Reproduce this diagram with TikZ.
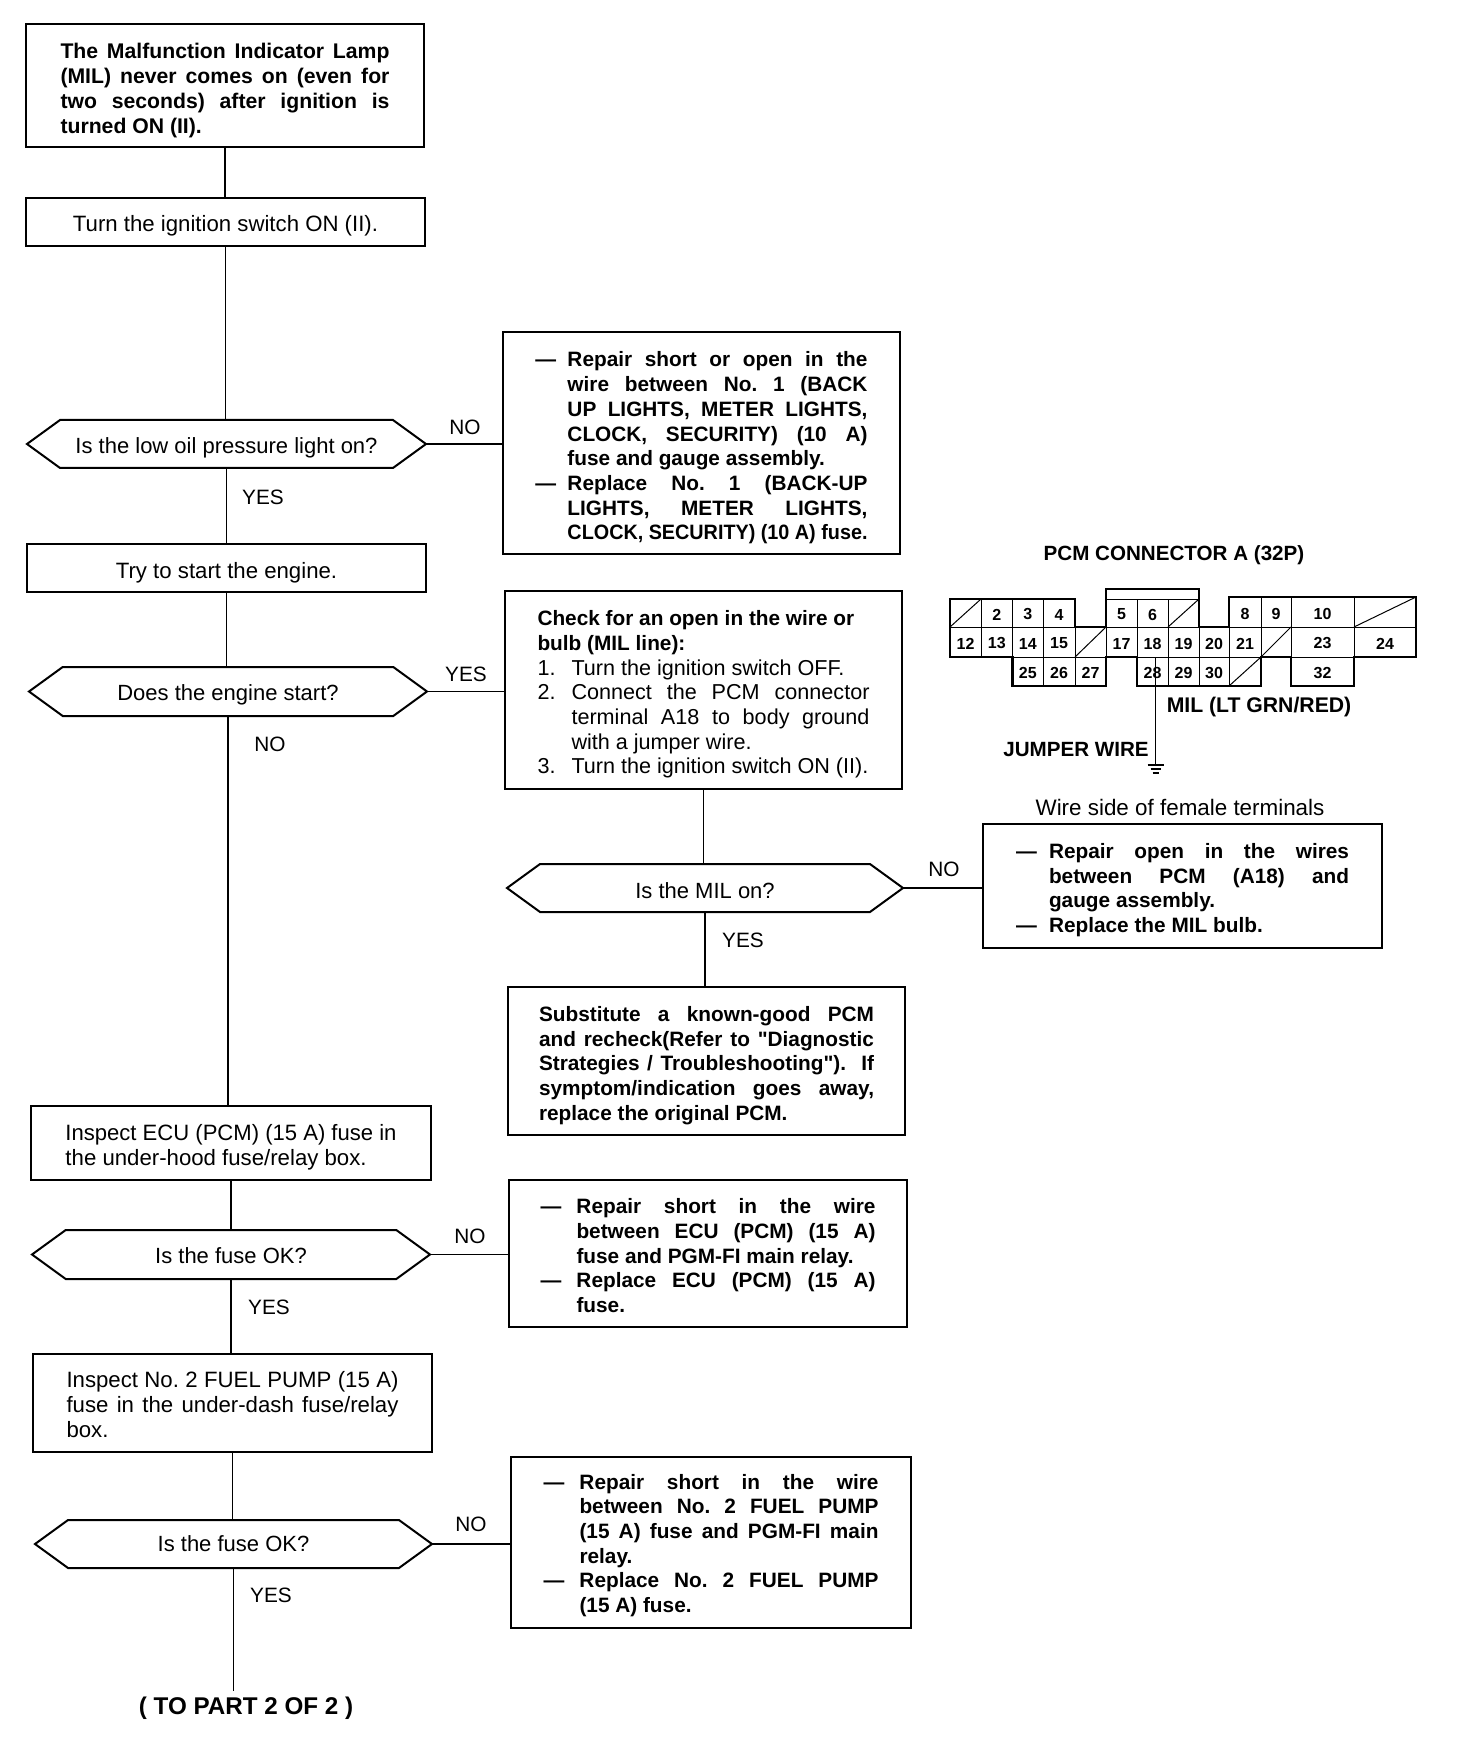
\documentclass[tikz,border=0pt]{standalone}
\usepackage{fontspec}
\usepackage{graphicx}
\setmainfont{Liberation Sans}[Ligatures=TeXOff]
\usetikzlibrary{shapes.symbols}
\AtBeginDocument{\frenchspacing}
\newdimen\jwd
\newdimen\jin
\newcommand\bld{\fontsize{10.4}{12.35}\selectfont\bfseries}
\newcommand\justl[1]{\setbox0=\hbox{#1}\ifdim\wd0>\jwd\hbox{\resizebox{\jwd}{\height}{\copy0}}\else\hbox to \jwd{#1}\fi}
\newcommand\leftl[1]{\hbox to \jwd{#1\hfil}}
\newcommand\dashj[1]{\hbox{\hbox to \jin{—\hfil}\justl{#1}}}
\newcommand\dashl[1]{\hbox{\hbox to \jin{—\hfil}\leftl{#1}}}
\newcommand\indj[1]{\hbox{\hskip\jin\justl{#1}}}
\newcommand\indl[1]{\hbox{\hskip\jin\leftl{#1}}}
\newcommand\numj[2]{\hbox{\hbox to \jin{#1\hfil}\justl{#2}}}
\newcommand\numl[2]{\hbox{\hbox to \jin{#1\hfil}\leftl{#2}}}
\newcommand\txtblk[3]{\vbox{\baselineskip=12.35pt\lineskiplimit=-5pt\jwd=#1pt\jin=#2pt\relax #3}}
\tikzset{
  flowbox/.style={draw=black,line width=1pt,rectangle,inner sep=0pt,outer sep=0pt,fill=white,font=\fontsize{11.1}{12.35}\selectfont},
  decision/.style={draw=black,line width=1pt,signal,signal from=nowhere,signal to=east and west,signal pointer angle=72,inner sep=0pt,outer sep=0pt,fill=white,font=\fontsize{11}{12.35}\selectfont},
  flowline/.style={draw=black,line width=0.8pt},
  lbl/.style={inner sep=0pt,font=\fontsize{10.4}{12}\selectfont},
  boldlbl/.style={inner sep=0pt,font=\fontsize{10.3}{12}\selectfont\bfseries},
  pincell/.style={draw=black,line width=0.5pt,rectangle,inner sep=0pt,outer sep=0pt,font=\fontsize{8}{9}\selectfont\bfseries},
  plug/.style={draw=black,line width=1.4pt,line join=miter},
  thinline/.style={draw=black,line width=0.5pt}
}
\newcommand\fbx[7]{\node[flowbox,minimum width={0.5pt*(#3-#2)},minimum height={0.5pt*(#5-#4)}] (#1) at ({(#2+#3)/2},{(#4+#5)/2}) {\vbox{\kern#7pt\hbox{#6}}};}
\newcommand\decn[7]{\node[decision,minimum width={0.5pt*(#3-#2)},minimum height={0.5pt*(#5-#4)}] (#1) at ({(#2+#3)/2},{(#4+#5)/2}) {\vbox{\kern#7pt\hbox{#6}}};}
\newcommand\pcell[6]{\node[pincell,minimum width={0.5pt*(#3-#2)},minimum height={0.5pt*(#5-#4)}] (#1) at ({(#2+#3)/2},{(#4+#5)/2}) {\vbox{\kern1.5pt\hbox{#6}}};}
\newcommand\pdiag[5]{\node[pincell,minimum width={0.5pt*(#3-#2)},minimum height={0.5pt*(#5-#4)}] (#1) at ({(#2+#3)/2},{(#4+#5)/2}) {};\draw[thinline] (#1.south west) -- (#1.north east);}
\begin{document}
\begin{tikzpicture}[x=0.5pt,y=-0.5pt]
\useasboundingbox (0,0) rectangle (1472,1754);
\fill[white] (0,0) rectangle (1472,1754);
% left column
\fbx{a}{26}{424}{24}{147}{\fontsize{10.6}{12.35}\selectfont\bfseries\txtblk{164.5}{0}{%
 \justl{The Malfunction Indicator Lamp}
 \justl{(MIL) never comes on (even for}
 \justl{two seconds) after ignition is}
 \leftl{turned ON (II).}}}{5}
\fbx{b}{26}{425}{198}{246}{Turn the ignition switch ON (II).}{3.4}
\decn{d1}{27}{426}{420}{468}{Is the low oil pressure light on?}{3.4}
\fbx{c}{27}{426}{544}{592}{Try to start the engine.}{4.5}
\decn{d2}{29}{427}{667}{716}{Does the engine start?}{3.4}
\fbx{e}{31}{431}{1106}{1180}{\txtblk{165.5}{0}{%
 \justl{Inspect ECU (PCM) (15 A) fuse in}
 \leftl{the under-hood fuse/relay box.}}}{4.5}
\decn{d4}{32}{430}{1230}{1279}{Is the fuse OK?}{1}
\fbx{f}{33}{432}{1354}{1452}{\txtblk{166}{0}{%
 \justl{Inspect No. 2 FUEL PUMP (15 A)}
 \justl{fuse in the under-dash fuse/relay}
 \leftl{box.}}}{1.5}
\decn{d5}{35}{432}{1520}{1568}{Is the fuse OK?}{0}
\coordinate (endp) at (235,1691);
\node[inner sep=0pt,font=\fontsize{12.1}{14}\selectfont\bfseries] (part) at (246,1708) {( TO PART 2 OF 2 )};
% middle column
\fbx{r1}{503}{900}{332}{554}{\bld\txtblk{150}{16}{%
 \dashj{Repair short or open in the}
 \indj{wire between No. 1 (BACK}
 \indj{UP LIGHTS, METER LIGHTS,}
 \indj{CLOCK, SECURITY) (10 A)}
 \indl{fuse and gauge assembly.}
 \dashj{Replace No. 1 (BACK-UP}
 \indj{LIGHTS, METER LIGHTS,}
 \indj{CLOCK, SECURITY) (10 A) fuse.}}}{5}
\fbx{g}{505}{902}{591}{789}{\fontsize{10.8}{12.35}\selectfont\txtblk{149}{17}{%
 \hbox{\bld Check for an open in the wire or}
 \hbox{\bld bulb (MIL line):}
 \numl{1.}{Turn the ignition switch OFF.}
 \numj{2.}{Connect the PCM connector}
 \indj{terminal A18 to body ground}
 \indl{with a jumper wire.}
 \numl{3.}{Turn the ignition switch ON (II).}}}{4.5}
\decn{d3}{507}{903}{864}{912}{Is the MIL on?}{2.2}
\fbx{h}{508}{905}{987}{1135}{\bld\txtblk{167.5}{0}{%
 \justl{Substitute a known-good PCM}
 \justl{and recheck(Refer to "Diagnostic}
 \justl{Strategies / Troubleshooting"). \ If}
 \justl{symptom/indication goes away,}
 \leftl{replace the original PCM.}}}{4.5}
\fbx{r4}{509}{907}{1180}{1327}{\bld\txtblk{149.5}{18}{%
 \dashj{Repair short in the wire}
 \indj{between ECU (PCM) (15 A)}
 \indl{fuse and PGM-FI main relay.}
 \dashj{Replace ECU (PCM) (15 A)}
 \indl{fuse.}}}{2.2}
\fbx{r5}{511}{911}{1457}{1628}{\bld\txtblk{149.5}{18}{%
 \dashj{Repair short in the wire}
 \indj{between No. 2 FUEL PUMP}
 \indj{(15 A) fuse and PGM-FI main}
 \indl{relay.}
 \dashj{Replace No. 2 FUEL PUMP}
 \indl{(15 A) fuse.}}}{3}
\fbx{r3}{983}{1382}{824}{948}{\bld\txtblk{150}{16.5}{%
 \dashj{Repair open in the wires}
 \indj{between PCM (A18) and}
 \indl{gauge assembly.}
 \dashl{Replace the MIL bulb.}}}{4}
% connectors
\draw[flowline] (a.south) -- (a.south |- b.north);
\draw[flowline] (b.south) -- (b.south |- d1.north);
\draw[flowline] (d1.south) -- (d1.south |- c.north);
\draw[flowline] (c.south) -- (c.south |- d2.north);
\draw[flowline] (d2.south) -- (d2.south |- e.north);
\draw[flowline] (e.south) -- (e.south |- d4.north);
\draw[flowline] (d4.south) -- (d4.south |- f.north);
\draw[flowline] (f.south) -- (f.south |- d5.north);
\draw[flowline] (d5.south) -- (d5.south |- endp);
\draw[flowline] (d1.east) -- (d1.east -| r1.west);
\draw[flowline] (d2.east) -- (d2.east -| g.west);
\draw[flowline] (d4.east) -- (d4.east -| r4.west);
\draw[flowline] (d5.east) -- (d5.east -| r5.west);
\draw[flowline] (d3.east) -- (d3.east -| r3.west);
\draw[flowline] (g.south) -- (g.south |- d3.north);
\draw[flowline] (d3.south) -- (d3.south |- h.north);
% edge labels
\node[lbl] (n1) at (465,427) {NO};
\node[lbl] (y1) at (263,497) {YES};
\node[lbl] (y2) at (466,674) {YES};
\node[lbl] (n2) at (270,744) {NO};
\node[lbl] (n3) at (944,869) {NO};
\node[lbl] (y3) at (743,940) {YES};
\node[lbl] (n4) at (470,1236) {NO};
\node[lbl] (y4) at (269,1307) {YES};
\node[lbl] (n5) at (471,1524) {NO};
\node[lbl] (y5) at (271,1595) {YES};
% connector diagram
\node[boldlbl] (title) at (1174,555) {PCM CONNECTOR A (32P)};
\pdiag{p1}{950}{981}{599}{627}
\pcell{p2}{981}{1012.5}{599}{627}{2}
\pcell{p3}{1012.5}{1043}{599}{627}{3}
\pcell{p4}{1043}{1075}{599}{627}{4}
\pcell{p5}{1106}{1137}{599}{627}{5}
\pcell{p6}{1137}{1168}{599}{627}{6}
\pdiag{p7}{1168}{1199}{599}{627}
\pcell{p8}{1229}{1261}{597}{627}{8}
\pcell{p9}{1261}{1291}{597}{627}{9}
\pcell{p10}{1291}{1354}{597}{627}{10}
\pdiag{p11}{1354}{1416}{597}{627}
\pcell{p12}{950}{981}{627}{657}{12}
\pcell{p13}{981}{1012.5}{627}{657}{13}
\pcell{p14}{1012.5}{1043}{627}{657}{14}
\pcell{p15}{1043}{1075}{627}{657}{15}
\pdiag{p16}{1075}{1106}{627}{657}
\pcell{p17}{1106}{1137}{627}{657}{17}
\pcell{p18}{1137}{1168}{627}{657}{18}
\pcell{p19}{1168}{1199}{627}{657}{19}
\pcell{p20}{1199}{1229}{627}{657}{20}
\pcell{p21}{1229}{1261}{627}{657}{21}
\pdiag{p22}{1261}{1291}{627}{657}
\pcell{p23}{1291}{1354}{627}{657}{23}
\pcell{p24}{1354}{1416}{627}{657}{24}
\pcell{p25}{1012.5}{1043}{657}{686}{25}
\pcell{p26}{1043}{1075}{657}{686}{26}
\pcell{p27}{1075}{1106}{657}{686}{27}
\pcell{p28}{1137}{1168}{657}{686}{28}
\pcell{p29}{1168}{1199}{657}{686}{29}
\pcell{p30}{1199}{1229}{657}{686}{30}
\pdiag{p31}{1229}{1261}{657}{686}
\pcell{p32}{1291}{1354}{657}{686}{32}
\draw[plug] (950,599) -- (1075,599) -- (1075,627) -- (1106,627) -- (1106,589) -- (1199,589) -- (1199,627) -- (1229,627) -- (1229,597) -- (1416,597) -- (1416,657) -- (1354,657) -- (1354,686) -- (1291,686) -- (1291,657) -- (1261,657) -- (1261,686) -- (1137,686) -- (1137,657) -- (1106,657) -- (1106,686) -- (1012.5,686) -- (1012.5,657) -- (950,657) -- cycle;
\coordinate (gnd) at (1155.5,765);
\draw[flowline] (gnd |- p28.north) -- (gnd);
\draw[line width=1pt] (gnd) ++(-8,0) -- ++(16,0);
\draw[line width=1pt] (gnd) ++(-5,4) -- ++(10,0);
\draw[line width=1pt] (gnd) ++(-3,8) -- ++(6,0);
\node[boldlbl,font=\fontsize{10.6}{12}\selectfont\bfseries] (mil) at (1259,707) {MIL (LT GRN/RED)};
\node[boldlbl] (jump) at (1076,750) {JUMPER WIRE};
\node[lbl,font=\fontsize{11.2}{12}\selectfont] (wire) at (1180,807) {Wire side of female terminals};
\end{tikzpicture}
\end{document}
